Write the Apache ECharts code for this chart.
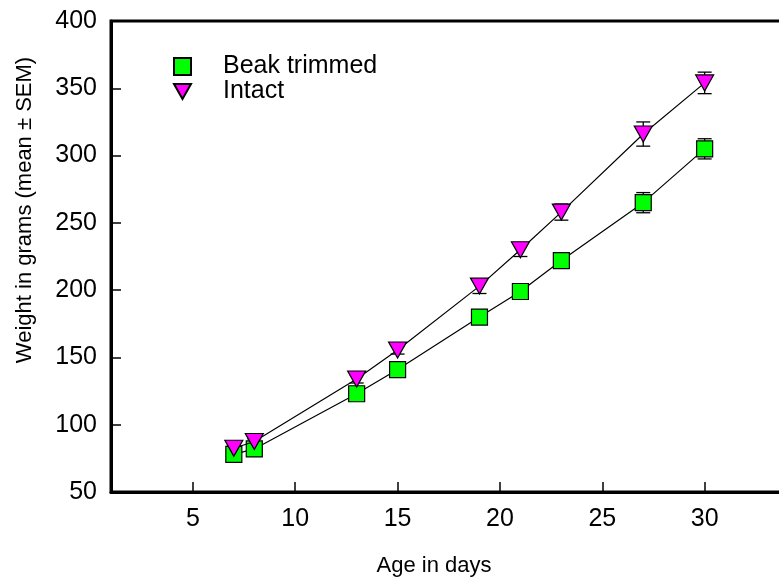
<!DOCTYPE html>
<html>
<head>
<meta charset="utf-8">
<script src="https://cdn.jsdelivr.net/npm/echarts@6/dist/echarts.min.js"></script>
<style>
  html, body { margin: 0; padding: 0; background: #fff; }
  #chart { width: 779px; height: 579px; }
</style>
</head>
<body>
<div id="chart"></div>
<script>
// data
const days = [7, 8, 13, 15, 19, 21, 23, 27, 30];
const beakMean = [78, 82, 123, 141, 180, 199, 222, 265, 305];
const beakSem = [2, 2, 3, 3, 3, 3, 4, 7.5, 7.5];
const intactMean = [82.5, 87.5, 134, 155.5, 203, 230, 258, 316, 354];
const intactSem = [2, 2, 3, 3, 5.5, 5, 6, 9, 8];
const xTicks = [5, 10, 15, 20, 25, 30];

const FONT = "'Liberation Sans', Arial, sans-serif";

const chart = echarts.init(document.getElementById('chart'));

// vertical bar + caps for mean ± SEM
const errorSeries = (means, sems) => ({
  type: 'custom',
  z: 1,
  silent: true,
  data: days.map((d, i) => [d, means[i] - sems[i], means[i] + sems[i]]),
  renderItem: (params, api) => {
    const lo = api.coord([api.value(0), api.value(1)]);
    const hi = api.coord([api.value(0), api.value(2)]);
    const w = 7;
    const style = { stroke: '#000', lineWidth: 1.3 };
    return {
      type: 'group',
      children: [
        { type: 'line', shape: { x1: lo[0], y1: lo[1], x2: hi[0], y2: hi[1] }, style: style },
        { type: 'line', shape: { x1: hi[0] - w, y1: hi[1], x2: hi[0] + w, y2: hi[1] }, style: style },
        { type: 'line', shape: { x1: lo[0] - w, y1: lo[1], x2: lo[0] + w, y2: lo[1] }, style: style }
      ]
    };
  }
});

chart.setOption({
  animation: false,
  grid: {
    left: 111, top: 21, right: -28, bottom: 87,
    outerBoundsMode: 'none',
    containLabel: false,
    show: true, borderColor: '#000', borderWidth: 3
  },
  legend: {
    orient: 'vertical',
    left: 168, top: 49,
    itemWidth: 17, itemHeight: 17,
    itemGap: 0,
    data: [
      { name: 'Beak trimmed', icon: 'rect' },
      { name: 'Intact', icon: 'path://M0,0L18,0L9,16Z' }
    ],
    textStyle: { fontFamily: FONT, fontSize: 25, color: '#000', lineHeight: 24, padding: [0, 0, 0, 27] }
  },
  xAxis: {
    type: 'value',
    min: 1, max: 35,
    axisLine: { lineStyle: { color: '#000', width: 3 } },
    axisTick: { inside: true, length: 10, lineStyle: { color: '#000', width: 1.5 }, customValues: xTicks },
    axisLabel: { customValues: xTicks, fontFamily: FONT, fontSize: 25, color: '#000', margin: 15 },
    splitLine: { show: false }
  },
  yAxis: {
    type: 'value',
    min: 50, max: 400, interval: 50,
    axisLine: { show: true, lineStyle: { color: '#000', width: 3 } },
    axisTick: { show: true, inside: true, length: 10, lineStyle: { color: '#000', width: 1.5 } },
    axisLabel: { fontFamily: FONT, fontSize: 25, color: '#000', margin: 14 },
    splitLine: { show: false }
  },
  graphic: [
    {
      type: 'text', x: 25, y: 210, rotation: Math.PI / 2,
      style: { text: 'Weight in grams (mean ± SEM)', font: '22px ' + FONT, fill: '#000', align: 'center', verticalAlign: 'middle' }
    },
    {
      type: 'text', x: 434, y: 566,
      style: { text: 'Age in days', font: '22px ' + FONT, fill: '#000', align: 'center', verticalAlign: 'middle' }
    }
  ],
  series: [
    errorSeries(beakMean, beakSem),
    errorSeries(intactMean, intactSem),
    {
      name: 'Beak trimmed',
      type: 'line',
      z: 3,
      data: days.map((d, i) => [d, beakMean[i]]),
      symbol: 'rect',
      symbolSize: 16,
      lineStyle: { color: '#000', width: 1.2 },
      itemStyle: { color: '#00ff00', borderColor: '#000', borderWidth: 1.2 }
    },
    {
      name: 'Intact',
      type: 'line',
      z: 4,
      data: days.map((d, i) => [d, intactMean[i]]),
      symbol: 'triangle',
      symbolRotate: 180,
      symbolSize: [18, 16],
      lineStyle: { color: '#000', width: 1.2 },
      itemStyle: { color: '#ff00ff', borderColor: '#000', borderWidth: 1.2 }
    }
  ]
});
</script>
</body>
</html>
